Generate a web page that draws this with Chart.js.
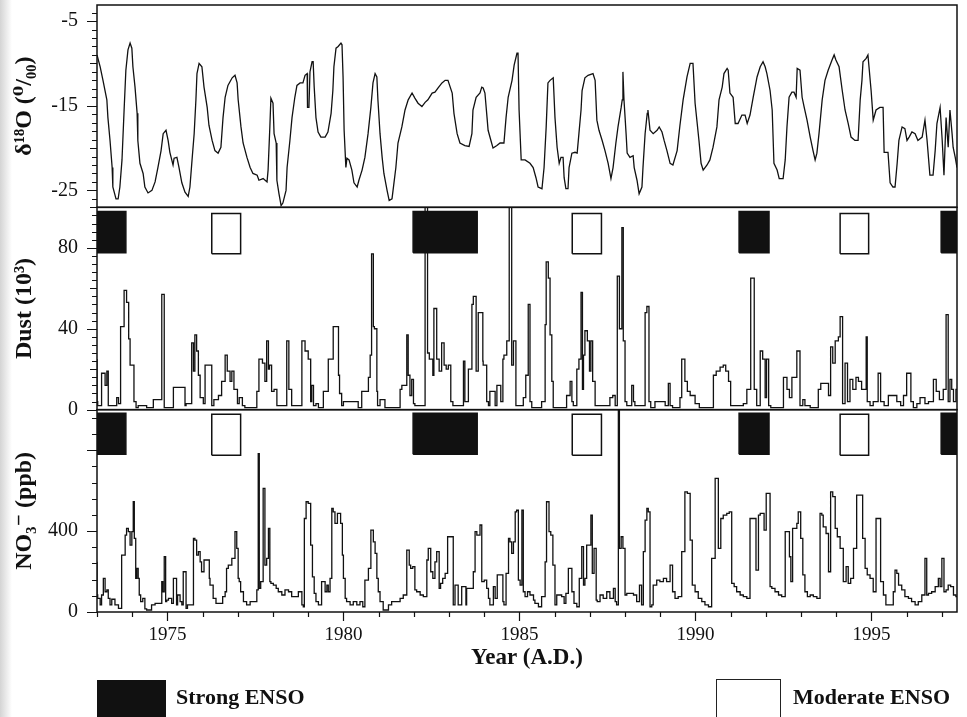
<!DOCTYPE html>
<html><head><meta charset="utf-8">
<script src="https://cdn.jsdelivr.net/npm/chart.js@4/dist/chart.umd.min.js"></script>
<style>
html,body{margin:0;padding:0;background:#fff;}
#wrap{position:relative;width:967px;height:717px;overflow:hidden;background:#fff;}
#edge{position:absolute;left:0;top:0;width:12px;height:717px;background:linear-gradient(to right,#d4d4d4,#fff);}
canvas{position:absolute;left:0;top:0;}
.box{position:absolute;box-sizing:border-box;}
.lbl{position:absolute;font:bold 22px 'Liberation Serif','Times New Roman',serif;color:#111;line-height:1;white-space:nowrap;}
</style></head><body>
<div id="wrap">
<div id="edge"></div>
<canvas id="c" width="967" height="717"></canvas>
<div class="box" style="left:97px;top:680px;width:69px;height:40px;background:#111;"></div>
<div class="lbl" style="left:176px;top:686px;">Strong ENSO</div>
<div class="box" style="left:716px;top:679px;width:65px;height:40px;border:1.5px solid #222;background:#fff;"></div>
<div class="lbl" style="left:793px;top:686px;">Moderate ENSO</div>
</div>
<script>
// ---- axis ticks ----
const yearTicks = [1975, 1980, 1985, 1990, 1995];
const d18oTicks = [-25, -15, -5];
const dustTicks = [0, 40, 80];
const no3Ticks = [0, 400];

// ---- ENSO events (years) ----
const strongStart = [1973.00, 1981.98, 1991.24, 1996.98];
const strongEnd   = [1973.82, 1983.80, 1992.09, 1997.43];
const moderateStart = [1976.26, 1986.50, 1994.11];
const moderateEnd   = [1977.08, 1987.33, 1994.92];

// ---- delta 18O (per mil) ----
const d18oYear = [1973.00,1973.09,1973.17,1973.28,1973.31,1973.37,1973.43,1973.45,1973.54,1973.60,1973.65,1973.71,1973.77,1973.82,1973.88,1973.94,1973.99,1974.02,1974.08,1974.14,1974.16,1974.22,1974.31,1974.36,1974.45,1974.56,1974.65,1974.73,1974.82,1974.88,1974.96,1975.02,1975.07,1975.16,1975.19,1975.27,1975.33,1975.41,1975.50,1975.59,1975.64,1975.70,1975.76,1975.81,1975.84,1975.90,1975.98,1976.04,1976.13,1976.18,1976.27,1976.35,1976.44,1976.52,1976.58,1976.64,1976.72,1976.84,1976.92,1976.98,1977.01,1977.09,1977.15,1977.26,1977.35,1977.43,1977.55,1977.60,1977.72,1977.83,1977.86,1977.91,1977.94,1978.00,1978.03,1978.09,1978.11,1978.17,1978.23,1978.28,1978.37,1978.40,1978.48,1978.54,1978.62,1978.68,1978.77,1978.85,1978.91,1978.97,1978.98,1979.02,1979.05,1979.11,1979.14,1979.17,1979.22,1979.28,1979.36,1979.48,1979.56,1979.65,1979.70,1979.73,1979.79,1979.85,1979.93,1979.96,1979.99,1980.02,1980.07,1980.10,1980.16,1980.24,1980.30,1980.39,1980.44,1980.53,1980.61,1980.70,1980.78,1980.84,1980.90,1980.95,1980.98,1981.04,1981.10,1981.15,1981.24,1981.30,1981.38,1981.41,1981.49,1981.55,1981.66,1981.75,1981.84,1981.95,1982.03,1982.12,1982.23,1982.32,1982.40,1982.52,1982.60,1982.69,1982.80,1982.89,1982.97,1983.09,1983.14,1983.23,1983.31,1983.45,1983.57,1983.65,1983.68,1983.77,1983.88,1983.93,1983.97,1984.02,1984.08,1984.11,1984.19,1984.25,1984.36,1984.45,1984.56,1984.62,1984.68,1984.79,1984.85,1984.93,1984.96,1984.99,1985.05,1985.16,1985.30,1985.39,1985.47,1985.53,1985.64,1985.70,1985.76,1985.81,1985.87,1985.96,1986.01,1986.07,1986.13,1986.18,1986.24,1986.27,1986.32,1986.38,1986.41,1986.49,1986.58,1986.64,1986.69,1986.75,1986.78,1986.86,1986.95,1987.09,1987.15,1987.20,1987.26,1987.35,1987.43,1987.52,1987.60,1987.66,1987.74,1987.80,1987.89,1987.92,1987.94,1987.97,1988.03,1988.06,1988.14,1988.23,1988.26,1988.34,1988.40,1988.48,1988.51,1988.57,1988.63,1988.65,1988.71,1988.80,1988.91,1988.97,1989.05,1989.11,1989.19,1989.28,1989.36,1989.48,1989.56,1989.65,1989.76,1989.85,1989.93,1989.99,1990.05,1990.10,1990.16,1990.22,1990.33,1990.41,1990.50,1990.61,1990.67,1990.76,1990.81,1990.90,1990.93,1990.98,1991.07,1991.13,1991.21,1991.32,1991.41,1991.47,1991.55,1991.64,1991.75,1991.84,1991.92,1991.98,1992.03,1992.12,1992.18,1992.23,1992.32,1992.38,1992.49,1992.55,1992.60,1992.66,1992.74,1992.80,1992.86,1992.89,1992.97,1993.03,1993.09,1993.17,1993.26,1993.34,1993.40,1993.45,1993.51,1993.60,1993.68,1993.77,1993.88,1993.94,1993.99,1994.08,1994.17,1994.25,1994.34,1994.42,1994.53,1994.62,1994.68,1994.73,1994.76,1994.85,1994.90,1994.99,1995.05,1995.13,1995.24,1995.33,1995.36,1995.47,1995.53,1995.61,1995.67,1995.73,1995.78,1995.87,1995.95,1996.01,1996.07,1996.15,1996.24,1996.32,1996.44,1996.52,1996.58,1996.66,1996.75,1996.81,1996.86,1996.95,1997.01,1997.06,1997.12,1997.18,1997.23,1997.29,1997.32,1997.38,1997.43];
const d18oValue = [-9.0,-10.4,-12.0,-14.3,-16.4,-19.1,-22.3,-24.6,-26.0,-26.0,-24.6,-21.4,-15.5,-10.8,-8.4,-7.6,-8.2,-10.4,-12.8,-15.9,-19.1,-21.8,-23.0,-24.6,-25.3,-25.0,-24.0,-22.3,-20.3,-18.3,-17.9,-19.1,-20.5,-22.0,-21.2,-21.1,-22.3,-24.1,-25.2,-25.7,-24.6,-21.4,-18.3,-14.3,-11.2,-10.0,-10.4,-12.8,-15.2,-17.3,-19.1,-20.3,-20.6,-19.9,-16.4,-14.0,-12.6,-11.7,-11.4,-12.3,-14.3,-17.5,-19.4,-21.1,-22.3,-23.0,-23.2,-23.8,-23.6,-24.0,-22.6,-17.5,-14.1,-14.7,-18.3,-19.4,-23.8,-25.4,-26.8,-26.5,-25.0,-22.3,-19.1,-16.4,-14.0,-12.6,-12.3,-12.3,-11.4,-11.2,-15.2,-15.2,-11.0,-9.8,-9.8,-12.8,-16.4,-18.1,-18.7,-18.7,-18.1,-15.9,-13.2,-10.4,-8.2,-8.0,-7.6,-7.8,-11.6,-17.9,-22.3,-21.2,-21.4,-22.6,-24.1,-24.6,-23.8,-22.6,-21.1,-18.3,-15.2,-12.3,-11.2,-11.6,-14.3,-18.3,-21.1,-23.0,-25.0,-26.2,-26.0,-25.0,-22.3,-19.4,-17.5,-15.5,-14.3,-13.5,-14.1,-14.7,-15.1,-14.6,-14.3,-13.5,-13.4,-12.9,-12.3,-12.0,-12.0,-13.5,-15.9,-18.3,-19.4,-19.7,-19.8,-18.3,-15.5,-14.0,-13.5,-12.8,-12.9,-13.5,-16.4,-17.9,-19.1,-20.0,-19.7,-19.4,-19.4,-16.4,-14.0,-12.0,-10.2,-8.8,-8.8,-15.5,-21.4,-21.4,-21.8,-22.3,-23.5,-24.6,-24.8,-22.3,-17.5,-12.3,-12.0,-11.7,-16.4,-19.9,-21.8,-21.1,-21.1,-23.5,-24.8,-24.8,-22.3,-20.6,-20.5,-20.6,-18.3,-15.5,-13.2,-11.7,-11.4,-11.2,-12.0,-16.7,-17.9,-19.1,-20.3,-21.8,-23.6,-22.3,-19.4,-17.5,-15.2,-14.3,-11.0,-14.3,-18.3,-20.6,-21.1,-20.9,-22.3,-23.8,-25.4,-24.6,-22.3,-18.3,-15.9,-15.5,-17.9,-18.3,-17.9,-17.5,-18.1,-19.1,-20.3,-21.8,-22.0,-20.3,-17.3,-14.3,-11.6,-10.0,-10.0,-14.7,-17.1,-19.1,-21.8,-22.6,-22.0,-21.4,-19.9,-17.5,-14.3,-12.8,-11.2,-10.6,-10.8,-13.5,-14.0,-17.1,-17.1,-16.1,-16.1,-17.1,-16.1,-14.0,-11.6,-10.4,-9.8,-10.4,-11.2,-13.2,-15.5,-21.8,-22.6,-23.6,-23.6,-21.4,-17.5,-14.0,-13.4,-13.4,-14.0,-10.6,-10.8,-14.0,-15.2,-16.7,-18.7,-20.3,-21.4,-20.6,-18.3,-14.3,-12.0,-10.8,-9.6,-9.0,-9.6,-10.4,-13.2,-15.5,-17.1,-18.7,-19.1,-19.1,-14.3,-12.0,-9.8,-9.4,-9.0,-13.2,-16.7,-15.5,-15.2,-15.2,-20.5,-20.5,-24.1,-24.6,-24.6,-21.8,-19.1,-17.5,-17.7,-19.1,-18.7,-18.1,-18.3,-19.1,-18.7,-16.7,-19.1,-23.2,-23.2,-20.3,-17.1,-15.2,-19.1,-23.2,-16.4,-19.9,-15.5,-18.3,-19.9,-21.1,-22.3];

// ---- Dust (10^3) ----
const dustYear = [1973.00,1973.02,1973.13,1973.23,1973.28,1973.32,1973.37,1973.56,1973.61,1973.67,1973.77,1973.84,1973.90,1973.94,1974.05,1974.11,1974.17,1974.41,1974.60,1974.84,1974.91,1974.95,1975.17,1975.50,1975.53,1975.69,1975.74,1975.78,1975.83,1975.88,1975.93,1976.02,1976.07,1976.26,1976.32,1976.45,1976.54,1976.64,1976.70,1976.78,1976.83,1976.89,1976.99,1977.04,1977.13,1977.20,1977.54,1977.60,1977.70,1977.77,1977.82,1977.87,1977.90,1977.96,1978.03,1978.11,1978.20,1978.39,1978.45,1978.53,1978.58,1978.82,1978.91,1979.00,1979.07,1979.10,1979.15,1979.22,1979.29,1979.43,1979.57,1979.71,1979.78,1979.86,1979.89,1979.95,1980.00,1980.28,1980.42,1980.52,1980.71,1980.76,1980.80,1980.85,1980.88,1980.95,1980.97,1981.04,1981.18,1981.23,1981.61,1981.66,1981.80,1981.84,1981.89,1981.94,1981.99,1982.03,1982.32,1982.39,1982.44,1982.54,1982.57,1982.65,1982.72,1982.79,1982.86,1982.92,1982.98,1983.05,1983.11,1983.17,1983.41,1983.45,1983.55,1983.65,1983.69,1983.77,1983.83,1983.88,1983.96,1983.97,1984.07,1984.12,1984.16,1984.24,1984.31,1984.36,1984.40,1984.47,1984.53,1984.56,1984.64,1984.71,1984.78,1984.83,1984.90,1984.97,1985.11,1985.18,1985.25,1985.30,1985.35,1985.44,1985.63,1985.73,1985.76,1985.82,1985.87,1985.92,1985.96,1986.04,1986.34,1986.44,1986.49,1986.53,1986.63,1986.69,1986.75,1986.79,1986.82,1986.86,1986.93,1986.99,1987.03,1987.08,1987.15,1987.20,1987.57,1987.65,1987.72,1987.78,1987.84,1987.91,1987.95,1988.00,1988.05,1988.19,1988.24,1988.28,1988.43,1988.57,1988.62,1988.68,1988.73,1988.85,1988.99,1989.14,1989.23,1989.28,1989.35,1989.56,1989.61,1989.70,1989.77,1989.85,1989.99,1990.11,1990.18,1990.51,1990.59,1990.70,1990.79,1990.86,1990.94,1991.00,1991.08,1991.36,1991.46,1991.57,1991.67,1991.74,1991.84,1991.91,1991.98,1992.02,1992.08,1992.14,1992.50,1992.60,1992.67,1992.74,1992.80,1992.88,1992.97,1993.05,1993.11,1993.26,1993.49,1993.56,1993.78,1993.84,1993.90,1993.97,1994.06,1994.11,1994.18,1994.25,1994.32,1994.39,1994.47,1994.56,1994.63,1994.72,1994.85,1994.88,1994.96,1995.05,1995.19,1995.26,1995.36,1995.48,1995.62,1995.72,1995.83,1995.91,1996.00,1996.12,1996.19,1996.29,1996.38,1996.52,1996.62,1996.76,1996.84,1996.93,1997.04,1997.12,1997.18,1997.23,1997.28,1997.33,1997.40,1997.43];
const dustValue = [25,4,2,18,12,19,2,2,6,3,41,59,53,35,22,4,1,2,1,5,57,1,1,11,2,3,33,19,37,29,17,6,3,22,2,5,7,14,27,19,14,19,10,3,6,2,1,9,25,23,14,34,20,22,9,10,2,2,34,10,2,2,34,29,25,4,12,2,3,1,9,25,41,41,17,8,2,4,4,1,9,16,27,77,41,40,9,2,5,1,1,10,12,37,17,7,15,3,2,100,28,25,17,50,25,19,33,22,20,22,4,2,2,24,4,20,52,56,19,48,48,24,22,4,2,9,9,2,12,12,4,25,27,34,100,22,34,2,2,6,17,52,4,1,1,4,42,73,65,37,14,1,1,7,14,4,2,20,25,58,10,27,39,34,19,34,14,2,2,6,7,2,66,40,90,34,4,2,12,4,2,2,48,51,4,1,4,4,2,13,2,1,6,25,14,9,7,3,1,1,17,19,21,22,19,14,2,2,3,10,65,10,2,29,25,6,25,2,1,16,10,6,16,16,29,2,5,2,1,10,13,7,31,23,34,36,46,3,23,4,15,10,16,14,10,36,4,2,4,18,4,2,7,7,4,2,7,18,4,1,3,6,3,4,15,9,5,10,47,4,15,10,4,10];

// ---- NO3- (ppb) ----
const no3Year = [1973.00,1973.02,1973.09,1973.13,1973.18,1973.23,1973.28,1973.32,1973.37,1973.42,1973.51,1973.61,1973.70,1973.80,1973.84,1973.89,1973.94,1973.99,1974.03,1974.06,1974.10,1974.13,1974.17,1974.20,1974.24,1974.30,1974.36,1974.41,1974.55,1974.65,1974.84,1974.87,1974.91,1974.95,1974.98,1975.03,1975.12,1975.17,1975.26,1975.29,1975.36,1975.41,1975.45,1975.53,1975.57,1975.74,1975.78,1975.83,1975.88,1975.93,1975.97,1976.04,1976.12,1976.19,1976.21,1976.30,1976.38,1976.45,1976.57,1976.64,1976.68,1976.73,1976.83,1976.92,1976.97,1977.01,1977.04,1977.08,1977.16,1977.25,1977.35,1977.54,1977.58,1977.61,1977.65,1977.72,1977.77,1977.82,1977.87,1977.91,1977.94,1978.01,1978.09,1978.15,1978.25,1978.34,1978.44,1978.53,1978.72,1978.82,1978.86,1978.89,1978.94,1979.00,1979.07,1979.12,1979.17,1979.22,1979.29,1979.38,1979.48,1979.53,1979.57,1979.62,1979.67,1979.71,1979.76,1979.83,1979.92,1979.97,1980.00,1980.05,1980.09,1980.19,1980.28,1980.38,1980.47,1980.55,1980.61,1980.71,1980.78,1980.85,1980.90,1980.95,1980.99,1981.04,1981.13,1981.28,1981.37,1981.61,1981.70,1981.80,1981.87,1981.91,1981.97,1982.03,1982.08,1982.18,1982.27,1982.37,1982.41,1982.48,1982.54,1982.60,1982.65,1982.72,1982.76,1982.82,1982.89,1982.96,1983.03,1983.12,1983.17,1983.26,1983.36,1983.41,1983.48,1983.50,1983.60,1983.69,1983.74,1983.79,1983.88,1983.93,1984.00,1984.07,1984.12,1984.16,1984.26,1984.31,1984.37,1984.45,1984.53,1984.56,1984.62,1984.69,1984.73,1984.78,1984.83,1984.88,1984.92,1984.97,1985.02,1985.07,1985.11,1985.16,1985.23,1985.30,1985.40,1985.44,1985.54,1985.63,1985.73,1985.77,1985.84,1985.89,1985.95,1986.01,1986.06,1986.20,1986.27,1986.32,1986.39,1986.49,1986.55,1986.63,1986.70,1986.77,1986.82,1986.86,1986.91,1986.96,1987.03,1987.07,1987.12,1987.18,1987.21,1987.29,1987.38,1987.48,1987.57,1987.67,1987.72,1987.76,1987.81,1987.84,1987.89,1987.94,1988.00,1988.05,1988.24,1988.33,1988.41,1988.47,1988.52,1988.57,1988.62,1988.66,1988.71,1988.76,1988.80,1988.90,1988.99,1989.09,1989.18,1989.28,1989.35,1989.42,1989.51,1989.61,1989.70,1989.77,1989.85,1989.91,1989.99,1990.08,1990.18,1990.27,1990.37,1990.46,1990.56,1990.65,1990.72,1990.79,1990.89,1990.96,1991.03,1991.10,1991.17,1991.27,1991.36,1991.46,1991.55,1991.64,1991.72,1991.79,1991.84,1991.88,1991.95,1992.01,1992.07,1992.12,1992.17,1992.26,1992.36,1992.45,1992.55,1992.59,1992.67,1992.71,1992.76,1992.83,1992.88,1992.92,1992.99,1993.05,1993.11,1993.18,1993.26,1993.35,1993.45,1993.54,1993.59,1993.63,1993.71,1993.78,1993.84,1993.90,1993.97,1994.03,1994.11,1994.20,1994.28,1994.34,1994.41,1994.49,1994.58,1994.68,1994.75,1994.82,1994.88,1994.96,1995.05,1995.13,1995.19,1995.26,1995.34,1995.41,1995.48,1995.62,1995.67,1995.72,1995.77,1995.86,1995.95,1996.05,1996.14,1996.24,1996.33,1996.43,1996.52,1996.57,1996.62,1996.71,1996.81,1996.90,1996.95,1997.00,1997.06,1997.12,1997.18,1997.25,1997.33,1997.40,1997.43];
const no3Value = [248,84,67,35,84,166,100,109,67,35,63,35,18,281,380,413,397,331,397,545,364,166,216,166,84,51,67,15,10,35,43,150,100,273,51,59,67,43,166,35,84,51,35,199,18,35,364,355,281,298,248,199,257,257,166,133,67,43,43,76,100,216,232,265,397,314,166,150,100,51,35,51,109,783,117,150,611,232,265,413,150,141,133,117,100,84,109,100,76,100,35,26,462,545,537,331,174,92,51,35,150,100,133,100,166,512,495,438,487,438,281,166,67,51,35,51,35,51,26,158,216,405,347,290,166,100,51,10,35,51,67,84,306,232,216,224,109,100,84,76,257,314,199,166,248,298,117,141,166,191,372,372,35,133,35,125,125,35,117,117,199,397,380,430,150,158,117,67,35,125,67,183,183,51,35,191,364,347,290,347,495,503,158,133,503,100,76,100,84,59,43,26,76,248,545,397,380,232,35,84,76,43,92,216,100,43,26,166,323,133,166,331,331,479,191,314,59,51,84,67,100,67,117,51,35,1000,314,372,314,84,92,84,51,133,35,298,454,512,495,26,35,133,158,150,166,150,232,100,67,76,298,594,586,355,133,100,67,51,35,26,265,660,314,462,479,487,495,141,125,100,84,76,67,462,462,207,479,487,487,405,586,586,125,117,100,84,76,397,397,273,150,413,413,438,495,364,183,100,76,84,76,67,487,479,421,388,199,594,570,413,372,314,150,224,141,166,314,578,578,364,216,183,166,100,462,462,150,84,35,35,100,207,191,133,109,76,67,51,35,51,84,265,84,92,100,125,166,125,265,100,109,133,125,84,76];

const FONT = "'Liberation Serif','Times New Roman','DejaVu Serif',serif";
const INK = '#111';

function pts(xs, ys) { return xs.map((x, i) => ({x: x, y: ys[i]})); }
function rect(s, e, lo, hi) { return [{x:s,y:lo},{x:e,y:lo},{x:e,y:hi},{x:s,y:hi},{x:s,y:lo}]; }

const datasets = [];
// ENSO boxes in dust and nitrate panels
[['yDust', 77.5, 98, 77, 97], ['yNo3', 780, 982, 775, 977]].forEach(([axis, lo, hi, mlo, mhi]) => {
  strongStart.forEach((s, i) => datasets.push({
    data: rect(s, strongEnd[i], lo, hi), yAxisID: axis, fill: 'shape',
    backgroundColor: INK, borderColor: INK, borderWidth: 1.5, pointRadius: 0, tension: 0
  }));
  moderateStart.forEach((s, i) => datasets.push({
    data: rect(s, moderateEnd[i], mlo, mhi), yAxisID: axis, fill: 'shape',
    backgroundColor: '#fff', borderColor: INK, borderWidth: 1.5, pointRadius: 0, tension: 0
  }));
});
const lineStyle = {borderColor: INK, borderWidth: 1.3, pointRadius: 0, fill: false, tension: 0};
datasets.push(Object.assign({data: pts(d18oYear, d18oValue), yAxisID: 'yD18o', stepped: false}, lineStyle));
datasets.push(Object.assign({data: pts(dustYear, dustValue), yAxisID: 'yDust', stepped: 'after'}, lineStyle));
datasets.push(Object.assign({data: pts(no3Year, no3Value), yAxisID: 'yNo3', stepped: 'after'}, lineStyle));

function yAxis(min, max, tickList, title, weight) {
  return {
    type: 'linear', position: 'left', stack: 'panels', stackWeight: 1, weight: weight,
    min: min, max: max,
    border: {display: false},
    grid: {display: false, drawTicks: false},
    afterBuildTicks: s => { s.ticks = tickList.map(v => ({value: v})); },
    afterFit: s => { s.width = 97; s.paddingTop = 0; s.paddingBottom = 0; s.paddingLeft = 0; s.paddingRight = 0; },
    ticks: {padding: 19, color: INK, font: {family: FONT, size: 20}, callback: v => String(v)},
    title: {display: true, text: title, color: INK, font: {family: FONT, size: 24, weight: 'bold'}, padding: {top: 10, bottom: 0}}
  };
}

const marks = {
  id: 'marks',
  afterDraw(chart) {
    const {ctx, chartArea: a, scales} = chart;
    ctx.save();
    ctx.strokeStyle = INK;
    ctx.lineWidth = 1.5;
    ['yD18o', 'yDust', 'yNo3'].forEach(id => {
      const s = scales[id];
      ctx.strokeRect(a.left, s.top, a.right - a.left, s.bottom - s.top);
    });
    ctx.lineWidth = 1.2;
    ctx.beginPath();
    const specs = [['yD18o', 1, 10, 5], ['yDust', 4, 40, 20], ['yNo3', 80, 400, 0]];
    specs.forEach(([id, step, major, mid]) => {
      const s = scales[id];
      for (let k = Math.ceil(s.min / step); k * step <= s.max; k++) {
        const v = k * step;
        const isMajor = id === 'yD18o' ? (Math.abs(v) % 10 === 5) : (v % major === 0);
        const isMid = !isMajor && mid && (Math.abs(v) % mid === 0);
        const len = isMajor ? 10 : (isMid ? 7 : 5);
        const y = Math.round(s.getPixelForValue(v)) + 0.5;
        ctx.moveTo(a.left - len, y); ctx.lineTo(a.left, y);
      }
    });
    const xs = scales.x;
    for (let yr = Math.ceil(xs.min); yr <= xs.max; yr++) {
      const len = yr % 5 === 0 ? 9 : 5;
      const x = Math.round(xs.getPixelForValue(yr)) + 0.5;
      ctx.moveTo(x, a.bottom); ctx.lineTo(x, a.bottom + len);
    }
    ctx.stroke();
    ctx.restore();
  }
};

new Chart(document.getElementById('c'), {
  type: 'line',
  data: {datasets: datasets},
  options: {
    responsive: false, animation: false, devicePixelRatio: 1,
    layout: {padding: {left: 0, right: 10, top: 5, bottom: 45}},
    plugins: {legend: {display: false}, tooltip: {enabled: false}},
    scales: {
      x: {
        type: 'linear', position: 'bottom', min: 1973, max: 1997.43,
        border: {display: false},
        grid: {display: false, drawTicks: false},
        afterBuildTicks: s => { s.ticks = yearTicks.map(v => ({value: v})); },
        afterFit: s => { s.height = 60; s.paddingLeft = 0; s.paddingRight = 0; s.paddingTop = 0; s.paddingBottom = 0; },
        ticks: {padding: 12, maxRotation: 0, autoSkip: false, color: INK, font: {family: FONT, size: 19}, callback: v => String(v)},
        title: {display: true, text: 'Year (A.D.)', color: INK, font: {family: FONT, size: 23, weight: 'bold'}, padding: {top: 8, bottom: 0}}
      },
      yNo3: yAxis(0, 1000, no3Ticks, 'NO\u2083\u207B (ppb)', 1),
      yDust: yAxis(0, 100, dustTicks, 'Dust (10\u00B3)', 2),
      yD18o: yAxis(-27, -3.1, d18oTicks, '\u03B4\u00B9\u2078O (\u2070/\u2080\u2080)', 3)
    }
  },
  plugins: [marks]
});
</script>
</body></html>
